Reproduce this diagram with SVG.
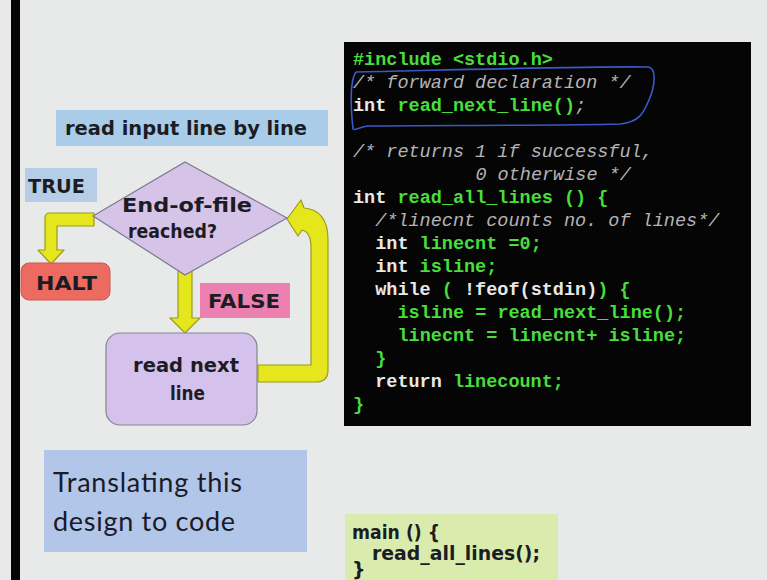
<svg xmlns="http://www.w3.org/2000/svg" width="767" height="580" viewBox="0 0 767 580">
<defs>
<style>
.fc{font-family:"DejaVu Sans","Liberation Sans",sans-serif;font-size:19px;font-weight:bold;fill:#1c1c24}
.code{font-family:"Liberation Mono","DejaVu Sans Mono",monospace;font-size:18.5px;font-weight:bold}
.g{fill:#48de3c}
.w{fill:#e8e8e8}
.c{fill:#b4b4b4;font-style:italic;font-weight:normal}
.arrow{fill:#e6e61c;stroke:#9a9a20;stroke-width:1.2;stroke-linejoin:round}
</style>
</defs>
<rect x="0" y="0" width="767" height="580" fill="#e7eae9"/>
<rect x="11" y="0" width="9" height="580" fill="#050505"/>

<g id="title">
<rect x="56" y="110" width="272" height="36" fill="#a9cde9"/>
<text class="fc" x="65" y="135" textLength="242" lengthAdjust="spacingAndGlyphs">read input line by line</text>
</g>

<g id="true-label">
<rect x="25" y="168" width="72" height="34" fill="#b6cde8"/>
<text class="fc" x="28" y="193" textLength="57" lengthAdjust="spacingAndGlyphs">TRUE</text>
</g>

<g id="connectors">
<path class="arrow" d="M94 213 L50 213 Q45 213 45 218 L45 250 L38 250 L51 264 L64 250 L57 250 L57 226 L94 226 Z"/>
<path class="arrow" d="M178 270 L192 270 L192 318 L200 318 L185 333 L170 318 L178 318 Z"/>
<path class="arrow" d="M258 365 L311 365 L311 248 Q311 232 302 230 L298 236 L287 219 L301 200 L304 208 Q328 210 328 240 L328 370 Q328 382 316 382 L258 382 Z"/>
</g>

<g id="decision">
<polygon points="185,162 287,218 185,275 93,216" fill="#d5c3e8" stroke="#7a7a90" stroke-width="1.2"/>
<text class="fc" x="122" y="212" textLength="130" lengthAdjust="spacingAndGlyphs">End-of-file</text>
<text class="fc" x="128" y="238" textLength="89" lengthAdjust="spacingAndGlyphs">reached?</text>
</g>

<g id="halt">
<rect x="21" y="263" width="89" height="37" rx="8" fill="#ec6a60" stroke="#c85a55" stroke-width="1"/>
<text class="fc" x="36" y="290" textLength="61" lengthAdjust="spacingAndGlyphs">HALT</text>
</g>

<g id="false-label">
<rect x="200" y="283" width="90" height="35" fill="#ec80b0"/>
<text class="fc" x="208" y="308" textLength="72" lengthAdjust="spacingAndGlyphs">FALSE</text>
</g>

<g id="read-next">
<rect x="106" y="333" width="151" height="92" rx="14" fill="#d4c2ec" stroke="#858590" stroke-width="1.2"/>
<text class="fc" x="133" y="372" textLength="106" lengthAdjust="spacingAndGlyphs">read next</text>
<text class="fc" x="170" y="400" textLength="35" lengthAdjust="spacingAndGlyphs">line</text>
</g>

<g id="code">
<rect x="344" y="42" width="407" height="384" fill="#050505"/>
<g class="code" xml:space="preserve">
<text x="353" y="65"><tspan class="g">#include &lt;stdio.h&gt;</tspan></text>
<text x="353" y="88"><tspan class="c">/* forward declaration */</tspan></text>
<text x="353" y="111"><tspan class="w">int </tspan><tspan class="g">read_next_line()</tspan><tspan class="c">;</tspan></text>
<text x="353" y="157"><tspan class="c">/* returns 1 if successful,</tspan></text>
<text x="475.4" y="180"><tspan class="c">0 otherwise */</tspan></text>
<text x="353" y="203"><tspan class="w">int </tspan><tspan class="g">read_all_lines () {</tspan></text>
<text x="375.2" y="226"><tspan class="c">/*linecnt counts no. of lines*/</tspan></text>
<text x="375.2" y="249"><tspan class="w">int </tspan><tspan class="g">linecnt =0;</tspan></text>
<text x="375.2" y="272"><tspan class="w">int </tspan><tspan class="g">isline;</tspan></text>
<text x="375.2" y="295"><tspan class="w">while</tspan><tspan class="g"> ( </tspan><tspan class="w">!feof(stdin)</tspan><tspan class="g">) {</tspan></text>
<text x="397.5" y="318"><tspan class="g">isline = read_next_line();</tspan></text>
<text x="397.5" y="341"><tspan class="g">linecnt = linecnt+ isline;</tspan></text>
<text x="375.2" y="364"><tspan class="g">}</tspan></text>
<text x="375.2" y="387"><tspan class="w">return </tspan><tspan class="g">linecount;</tspan></text>
<text x="353" y="410"><tspan class="g">}</tspan></text>
</g>
<path d="M356 72 C450 70 600 66 648 67 C657 68 655 86 649 100 C644 112 640 122 620 124 C550 126 420 125 368 126 C358 127 355 131 353 129 C351 110 349 82 356 72" fill="none" stroke="#3a58c8" stroke-width="1.6"/>
</g>

<g id="translate">
<rect x="44" y="450" width="263" height="102" fill="#b1c6e9"/>
<text x="53" y="492" font-family="Lato,'Liberation Sans',sans-serif" font-size="27" fill="#1a1a28" textLength="189">Translating this</text>
<text x="53" y="531" font-family="Lato,'Liberation Sans',sans-serif" font-size="27" fill="#1a1a28" textLength="182">design to code</text>
</g>

<g id="main">
<rect x="345" y="514" width="213" height="66" fill="#d9ecad"/>
<text class="fc" x="352" y="539" textLength="88" lengthAdjust="spacingAndGlyphs">main () {</text>
<text class="fc" x="372" y="560" textLength="168" lengthAdjust="spacingAndGlyphs">read_all_lines();</text>
<text class="fc" x="352" y="576">}</text>
</g>
</svg>
